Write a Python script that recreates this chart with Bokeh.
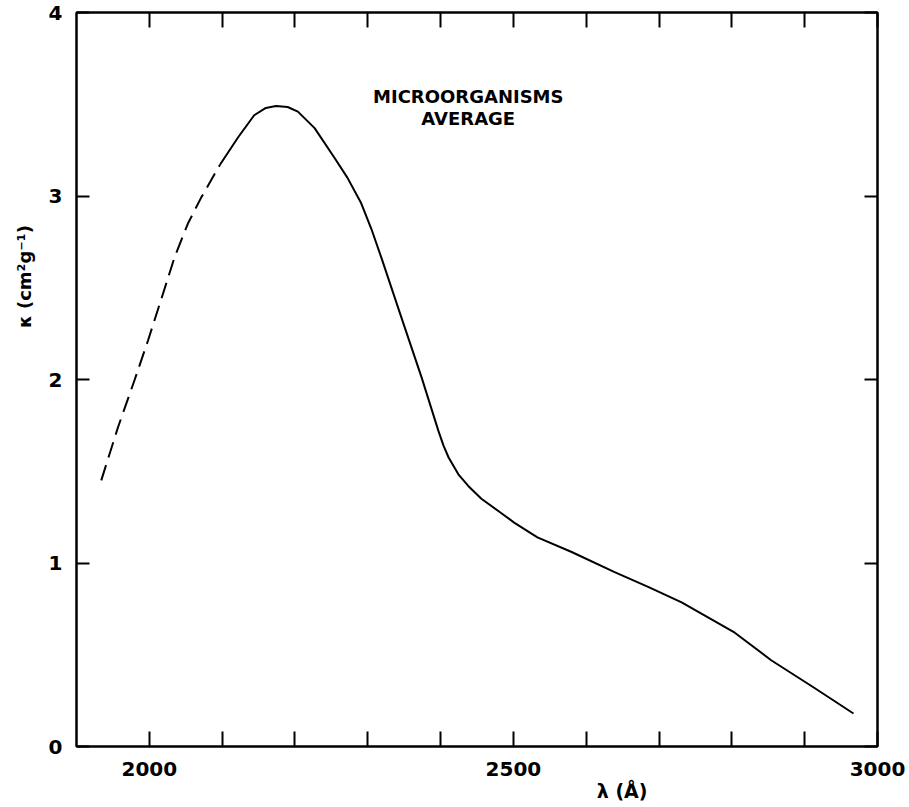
from bokeh.plotting import figure
from bokeh.models import FixedTicker, LinearAxis, Range1d, Title
from bokeh.embed import file_html
from bokeh.resources import INLINE
from bokeh.core.properties import value

# extrapolated (dashed) part of the curve
dash_wl = [1934, 1957, 1980, 1998, 2019, 2035, 2053, 2071, 2097]
dash_k = [1.45, 1.74, 2.0, 2.21, 2.47, 2.67, 2.85, 2.99, 3.17]

# measured (solid) part of the curve
solid_wl = [2097, 2122, 2144, 2160, 2174, 2190, 2204, 2227, 2254, 2272, 2291, 2305,
            2319, 2346, 2374, 2397, 2404, 2411, 2425, 2438, 2456, 2484, 2501, 2533,
            2580, 2639, 2685, 2731, 2804, 2854, 2913, 2967]
solid_k = [3.17, 3.32, 3.44, 3.48, 3.49, 3.485, 3.46, 3.37, 3.21, 3.10, 2.96, 2.82,
           2.66, 2.34, 2.01, 1.72, 1.64, 1.575, 1.48, 1.42, 1.35, 1.27, 1.22, 1.14,
           1.06, 0.95, 0.87, 0.785, 0.62, 0.47, 0.32, 0.18]

x_major = [2000, 2500, 3000]
x_minor = [2100, 2200, 2300, 2400, 2600, 2700, 2800, 2900]
x_all = [2000, 2100, 2200, 2300, 2400, 2500, 2600, 2700, 2800, 2900, 3000]
y_major = [0, 1, 2, 3, 4]

note_lines = ["MICROORGANISMS", "AVERAGE"]
note_x = [2438, 2438]
note_y = [3.54, 3.42]

x_title = "λ (Å)"
y_title = "κ   (cm²g⁻¹)"

FONT = "DejaVu Sans"

p = figure(width=909, height=807, x_range=Range1d(1900, 3000), y_range=Range1d(0, 4),
           output_backend="svg", toolbar_location=None,
           min_border_left=76, min_border_right=32, min_border_top=12, min_border_bottom=61)
p.grid.visible = False
p.outline_line_color = "black"
p.outline_line_width = 2
p.background_fill_color = "white"
p.border_fill_color = "white"


def style_axis(ax, tick=15):
    ax.axis_line_width = 2
    ax.axis_line_color = "black"
    ax.major_tick_in = tick
    ax.major_tick_out = 0
    ax.minor_tick_in = tick
    ax.minor_tick_out = 0
    ax.major_tick_line_width = 2
    ax.minor_tick_line_width = 2
    ax.major_tick_line_color = "black"
    ax.minor_tick_line_color = "black"
    ax.major_label_text_font = FONT
    ax.major_label_text_font_style = "bold"
    ax.major_label_text_font_size = "20px"
    ax.major_label_text_color = "black"


xa = p.xaxis[0]
xa.ticker = FixedTicker(ticks=x_major, minor_ticks=x_minor)
style_axis(xa)
xa.major_label_standoff = 15

ya = p.yaxis[0]
ya.ticker = FixedTicker(ticks=y_major)
style_axis(ya, tick=13)
ya.major_label_standoff = 14

# top and right frames: ticks only (minor ticks carry no labels)
top = LinearAxis(ticker=FixedTicker(ticks=[], minor_ticks=x_all))
style_axis(top)
p.add_layout(top, "above")

right = LinearAxis(ticker=FixedTicker(ticks=[], minor_ticks=y_major))
style_axis(right, tick=13)
p.add_layout(right, "right")

p.line(dash_wl, dash_k, line_color="black", line_width=2, line_dash="16 8")
p.line(solid_wl, solid_k, line_color="black", line_width=2)

p.text(x=note_x, y=note_y, text=note_lines, text_font=value(FONT), text_font_style="bold",
       text_font_size="18px", text_align="center", text_baseline="middle", text_color="black")

p.add_layout(Title(text=x_title, align="right", offset=230, vertical_align="middle",
                   text_font=FONT, text_font_style="bold", text_font_size="19px",
                   text_color="black", standoff=0), "below")
p.add_layout(Title(text=y_title, align="right", offset=200, vertical_align="middle",
                   text_font=FONT, text_font_style="bold", text_font_size="18px",
                   text_color="black", standoff=20), "left")

open("out.html", "w").write(file_html(p, INLINE))
